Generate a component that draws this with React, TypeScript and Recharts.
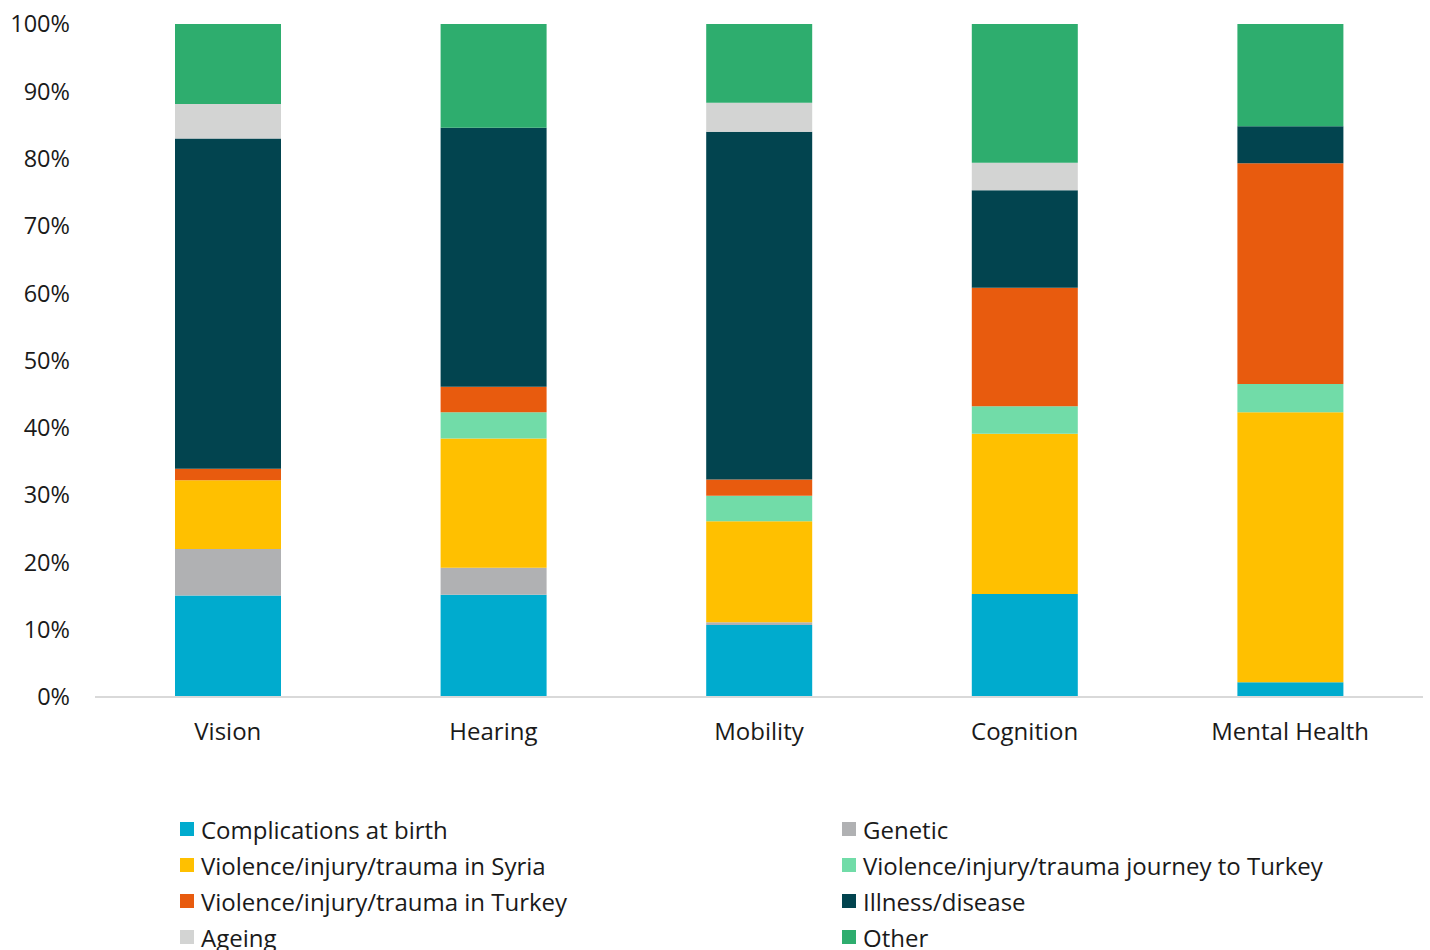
import { Bar, BarChart, XAxis, YAxis } from "recharts"

const categories = ["Vision", "Hearing", "Mobility", "Cognition", "Mental Health"]

const complicationsAtBirth = [15.1, 15.2, 10.7, 15.3, 2.2]
const genetic = [6.9, 4.0, 0.4, 0, 0]
const violenceSyria = [10.2, 19.2, 15.0, 23.8, 40.1]
const violenceJourney = [0, 3.9, 3.8, 4.1, 4.2]
const violenceTurkey = [1.7, 3.8, 2.4, 17.6, 32.8]
const illness = [49.1, 38.5, 51.7, 14.5, 5.5]
const ageing = [5.1, 0, 4.3, 4.1, 0]
const other = [11.9, 15.4, 11.7, 20.6, 15.2]

const yTicks = [0, 10, 20, 30, 40, 50, 60, 70, 80, 90, 100]

const series = [
  { key: "complications", name: "Complications at birth", values: complicationsAtBirth, color: "#00abce" },
  { key: "genetic", name: "Genetic", values: genetic, color: "#b0b1b3" },
  { key: "syria", name: "Violence/injury/trauma in Syria", values: violenceSyria, color: "#ffc000" },
  { key: "journey", name: "Violence/injury/trauma journey to Turkey", values: violenceJourney, color: "#71dca8" },
  { key: "turkey", name: "Violence/injury/trauma in Turkey", values: violenceTurkey, color: "#e85b0e" },
  { key: "illness", name: "Illness/disease", values: illness, color: "#02444f" },
  { key: "ageing", name: "Ageing", values: ageing, color: "#d3d4d3" },
  { key: "other", name: "Other", values: other, color: "#2ead6e" },
]

const data = categories.map((name, i) => {
  const row: Record<string, string | number> = { name }
  series.forEach((s) => {
    row[s.key] = s.values[i]
  })
  return row
})

const font = "'Open Sans', 'Noto Sans', sans-serif"

export default function App() {
  return (
    <div
      style={{
        position: "absolute",
        top: 0,
        left: 0,
        width: 1430,
        height: 950,
        background: "#fff",
        fontFamily: font,
        overflow: "hidden",
      }}
    >
      <BarChart
        width={1430}
        height={790}
        data={data}
        margin={{ top: 24, right: 7, bottom: 33, left: 0 }}
        barSize={106}
      >
        <XAxis
          dataKey="name"
          height={60}
          tickLine={false}
          tickSize={0}
          tickMargin={26}
          axisLine={{ stroke: "#d9d9d9", strokeWidth: 2 }}
          tick={{ fill: "#1a1a1a", fontSize: 24, fontFamily: font }}
        />
        <YAxis
          width={95}
          domain={[0, 100]}
          ticks={yTicks}
          tickFormatter={(v) => `${v}%`}
          axisLine={false}
          tickLine={false}
          tickSize={0}
          tickMargin={25}
          tick={{ fill: "#1a1a1a", fontSize: 23.5, fontFamily: font }}
        />
        {series.map((s) => (
          <Bar
            key={s.key}
            dataKey={s.key}
            name={s.name}
            stackId="a"
            fill={s.color}
            isAnimationActive={false}
          />
        ))}
      </BarChart>
      <div
        style={{
          position: "absolute",
          top: 811,
          left: 180,
          display: "grid",
          gridTemplateColumns: "662px 560px",
          rowGap: 0,
        }}
      >
        {series.map((s) => (
          <div
            key={s.key}
            style={{
              display: "flex",
              alignItems: "center",
              height: 36,
              fontSize: 24,
              color: "#1a1a1a",
              whiteSpace: "nowrap",
            }}
          >
            <span
              style={{
                display: "inline-block",
                width: 14,
                height: 14,
                background: s.color,
                marginRight: 7,
              }}
            />
            {s.name}
          </div>
        ))}
      </div>
    </div>
  )
}
